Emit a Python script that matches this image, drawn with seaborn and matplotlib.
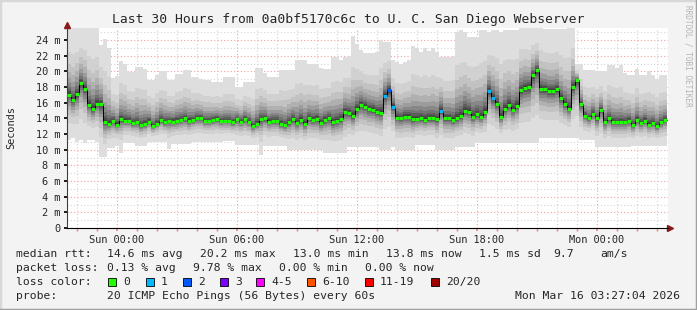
import matplotlib
matplotlib.use('Agg')
import matplotlib.pyplot as plt
import seaborn as sns
import numpy as np

# median rtt per 12 minute bin (ms), start Sat 21:30
median = [
    17.0, 16.3, 17.1, 18.5, 17.8, 15.7, 15.2, 15.9, 15.8, 13.5, 13.3, 13.7, 13.2, 13.9, 13.7, 13.7, 13.4, 13.5, 13.1, 13.3, 13.6, 13.0, 13.3, 13.8, 13.5,
    13.7, 13.6, 13.7, 13.8, 14.0, 13.7, 13.8, 14.0, 14.0, 13.7, 13.7, 13.8, 13.9, 13.7, 13.7, 13.7, 13.5, 13.9, 13.6, 13.9, 13.6, 13.0, 13.3, 13.9, 14.0,
    13.6, 13.7, 13.7, 13.3, 13.1, 13.5, 13.9, 13.4, 13.8, 13.3, 14.0, 13.8, 13.9, 13.4, 13.8, 14.0, 13.5, 13.7, 13.9, 14.8, 14.7, 14.3, 15.2, 15.7, 15.5,
    15.2, 15.1, 14.8, 14.7, 16.9, 17.6, 15.5, 14.1, 14.0, 14.2, 14.2, 13.9, 13.9, 14.0, 13.8, 14.0, 14.0, 13.9, 15.0, 14.0, 14.0, 13.8, 14.0, 14.3, 15.0,
    14.8, 14.2, 14.5, 14.2, 14.8, 17.5, 16.6, 15.8, 14.2, 15.2, 15.7, 15.1, 15.6, 17.6, 17.9, 18.0, 19.5, 20.2, 17.8, 17.7, 17.5, 17.5, 17.7, 16.6, 15.8,
    15.2, 18.0, 18.9, 15.8, 14.3, 14.0, 14.6, 14.0, 15.1, 13.5, 14.0, 13.5, 13.5, 13.5, 13.5, 13.7, 13.1, 13.8, 13.4, 13.7, 13.2, 13.4, 13.0, 13.5, 13.8]

# slowest ping per bin (ms)
smoke_hi = [
    25.8, 25.8, 25.8, 25.8, 25.8, 25.8, 25.5, 25.5, 23.4, 24.1, 23.0, 19.2, 19.4, 21.3, 21.0, 19.9, 19.9, 20.6, 20.6, 20.3,
    18.9, 18.9, 19.6, 20.0, 20.0, 18.9, 18.9, 19.7, 19.7, 20.2, 20.2, 19.3, 19.3, 19.0, 18.9, 18.9, 18.6, 18.6, 18.6, 19.3,
    19.3, 19.3, 18.0, 18.0, 18.7, 18.7, 18.7, 20.4, 20.4, 19.8, 19.3, 19.3, 19.3, 20.2, 20.2, 20.2, 20.2, 21.4, 21.4, 21.4,
    20.9, 20.9, 20.9, 20.5, 20.3, 20.3, 21.9, 21.9, 21.5, 21.9, 22.0, 24.5, 23.5, 22.8, 22.3, 22.3, 22.3, 22.5, 24.0, 23.7,
    23.7, 21.5, 21.2, 21.0, 21.2, 21.5, 23.3, 23.0, 22.5, 23.0, 22.6, 23.0, 22.5, 21.8, 21.8, 21.8, 22.0, 25.0, 25.3, 25.0,
    24.4, 24.4, 24.4, 25.3, 25.3, 25.0, 25.3, 25.3, 25.0, 25.3, 25.3, 25.3, 25.3, 26.0, 26.0, 25.7, 25.7, 25.7, 25.7, 25.4,
    25.4, 25.4, 25.4, 25.4, 25.4, 26.0, 26.0, 21.0, 21.0, 20.2, 20.2, 20.2, 20.0, 20.0, 20.0, 20.8, 20.8, 20.5, 20.8, 19.8,
    19.5, 19.5, 20.3, 19.5, 19.5, 20.0, 19.5, 19.0, 19.5, 19.5]

# fastest ping per bin (ms)
smoke_lo = [
    11.3, 11.5, 11.0, 11.2, 10.8, 11.3, 11.2, 11.0, 9.1, 9.1, 10.2, 10.2, 10.5, 9.6, 10.8, 10.8, 10.8, 10.5, 10.5, 10.5,
    11.0, 11.0, 11.0, 11.0, 11.0, 10.1, 10.7, 10.7, 10.7, 10.7, 10.7, 11.0, 11.0, 11.0, 11.0, 11.0, 11.0, 11.0, 11.0, 11.1,
    11.1, 11.1, 10.6, 10.6, 10.6, 10.6, 10.6, 10.6, 9.3, 10.5, 10.5, 10.5, 10.5, 10.5, 10.5, 10.0, 10.0, 10.0, 10.0, 10.0,
    10.0, 10.0, 10.0, 10.0, 9.6, 9.6, 9.6, 9.6, 9.6, 9.6, 10.4, 10.4, 10.4, 10.4, 10.4, 10.4, 10.4, 10.4, 10.0, 10.0,
    10.0, 10.4, 10.0, 10.0, 10.0, 10.0, 10.0, 10.6, 10.6, 10.6, 10.6, 10.6, 10.0, 10.0, 10.0, 10.0, 10.0, 10.3, 10.3, 10.3,
    10.3, 10.3, 10.8, 10.8, 10.8, 10.8, 10.8, 10.8, 10.8, 10.8, 10.8, 10.8, 10.8, 10.8, 10.8, 10.8, 10.8, 10.8, 11.5, 11.5,
    11.5, 11.5, 11.5, 11.5, 11.5, 11.5, 11.5, 11.5, 11.2, 11.2, 11.2, 11.2, 10.3, 10.3, 10.3, 10.3, 10.3, 10.3, 10.3, 10.3,
    10.3, 10.5, 10.5, 10.5, 10.5, 10.5, 10.5, 10.5, 10.5, 10.5]

# bins with packet loss and the number of lost pings
loss_bins = [79, 80, 81, 93, 105, 106]
loss_count = [1, 2, 1, 1, 1, 1]

loss_labels = ['0', '1', '2', '3', '4-5', '6-10', '11-19', '20/20']
loss_colors = ['#20ff00', '#00b8ff', '#0059ff', '#7e00ff', '#ff00ff', '#ff5500', '#ff0000', '#a10000']
loss_label_x = [108, 146, 183, 220, 256, 307, 365, 431]

time_labels = ['Sun 00:00', 'Sun 06:00', 'Sun 12:00', 'Sun 18:00', 'Mon 00:00']
time_ticks = [2.5, 8.5, 14.5, 20.5, 26.5]   # hours after Sat 21:30

sns.set_theme(style='white')
plt.rcParams['font.family'] = ['DejaVu Sans Mono']
plt.rcParams['axes.linewidth'] = 0.8

W, H = 697, 310
fig = plt.figure(figsize=(W / 100, H / 100), dpi=100, facecolor='#f3f3f3')
ax = fig.add_axes([67 / W, 1 - 228 / H, (668 - 67) / W, 200 / H])
ax.set_facecolor('white')

n = len(median)
bin_h = 0.2
x = np.arange(n) * bin_h
med = np.array(median)
hi = np.array(smoke_hi)
lo = np.array(smoke_lo)

# grid first
for h in np.arange(0.5, 30.1, 1.0):
    major = any(abs(h - t) < 1e-6 for t in time_ticks)
    ax.axvline(h, color='#f2a0a0' if major else '#d4d4d4', lw=0.8, ls=(0, (1, 2)), zorder=0)
for v in range(1, 26):
    ax.axhline(v, color='#f2a0a0' if v % 2 == 0 else '#d4d4d4', lw=0.8, ls=(0, (1, 2)), zorder=0)

# smoke: nested bands of the sorted pings, light outside, dark near median
fracs = [1.0, 0.62, 0.45, 0.34, 0.25, 0.18, 0.12, 0.08, 0.05, 0.025]
grays = [0.87, 0.82, 0.76, 0.69, 0.61, 0.53, 0.45, 0.37, 0.29, 0.22]
for f, g in zip(fracs, grays):
    top = med + f * (hi - med)
    bot = med - f * (med - lo)
    ax.bar(x, top - bot, bottom=bot, width=bin_h, align='edge', color=str(g), linewidth=0, zorder=1)

# median line
counts = np.zeros(n, dtype=int)
counts[loss_bins] = loss_count
col_idx = np.select([counts == 0, counts == 1, counts == 2, counts == 3, counts <= 5, counts <= 10, counts <= 19],
                    [0, 1, 2, 3, 4, 5, 6], 7)
sns.lineplot(x=np.append(x, x[-1] + bin_h), y=np.append(med, med[-1]), drawstyle='steps-post',
             color='black', lw=0.7, ax=ax, zorder=2)
ax.hlines(med, x, x + bin_h, colors=[loss_colors[c] for c in col_idx], lw=2.3, zorder=3)

ax.set_xlim(0, 30.05)
ax.set_ylim(0, 25.55)
ax.set_yticks(range(0, 25, 2))
ax.set_yticklabels(['0'] + [f'{v} m' for v in range(2, 25, 2)], fontsize=7.4)
ax.set_xticks(time_ticks)
ax.set_xticklabels(time_labels, fontsize=7.4)
ax.set_xticks(np.arange(0.5, 30.1, 1.0), minor=True)
ax.tick_params(axis='x', which='both', length=2, color='#f08080', pad=3, bottom=True)
ax.tick_params(axis='y', length=2, color='black', pad=3, left=True)
for s in ['top', 'right']:
    ax.spines[s].set_visible(False)
ax.spines['left'].set_color('#404040')
ax.spines['bottom'].set_color('black')
ax.plot([0], [1.015], marker='^', color='#8b1a1a', ms=4, transform=ax.transAxes, clip_on=False)
ax.plot([1.003], [0], marker='>', color='#8b1a1a', ms=4, transform=ax.transAxes, clip_on=False)
ax.set_ylabel('Seconds', fontsize=7.4)
ax.yaxis.set_label_coords(-(67 - 16) / (668 - 67), 0.5)
ax.set_xlabel('')

fig.text(348 / W, 1 - 19 / H, 'Last 30 Hours from 0a0bf5170c6c to U. C. San Diego Webserver',
         ha='center', va='center', fontsize=9.4)
fig.text(688 / W, 1 - 5 / H, 'RRDTOOL / TOBI OETIKER', rotation=270, ha='center', va='top',
         fontsize=5.6, color='#b4b4b4')

fs = 8.2
def put(px, py, s, **kw):
    fig.text(px / W, 1 - py / H, s, va='center', fontsize=fs, **kw)

row = [254, 268, 282, 296]
put(16, row[0], 'median rtt:')
for px, s in zip([107, 200, 293, 386, 479, 553, 600],
                 ['14.6 ms avg', '20.2 ms max', '13.0 ms min', '13.8 ms now', '1.5 ms sd', '9.7', 'am/s']):
    put(px, row[0], s)
put(16, row[1], 'packet loss:')
for px, s in zip([107, 193, 279, 365], ['0.13 % avg', '9.78 % max', '0.00 % min', '0.00 % now']):
    put(px, row[1], s)
put(16, row[2], 'loss color:')
for px, lab, c in zip(loss_label_x, loss_labels, loss_colors):
    fig.patches.append(plt.Rectangle((px / W, 1 - (row[2] + 4) / H), 8 / W, 8 / H, transform=fig.transFigure,
                                     facecolor=c, edgecolor='black', lw=0.6))
    put(px + 15, row[2], lab)
put(16, row[3], 'probe:')
put(107, row[3], '20 ICMP Echo Pings (56 Bytes) every 60s')
put(680, row[3], 'Mon Mar 16 03:27:04 2026', ha='right')

# 3d frame round the canvas
for xs, ys, c in [([0, 1], [1, 1], '#d8d8d8'), ([0, 0], [0, 1], '#d8d8d8'),
                  ([0, 1], [0, 0], '#a0a0a0'), ([1, 1], [0, 1], '#a0a0a0')]:
    fig.add_artist(plt.Line2D(xs, ys, transform=fig.transFigure, color=c, lw=2.5))

fig.savefig('out.png', dpi=100, facecolor=fig.get_facecolor())
